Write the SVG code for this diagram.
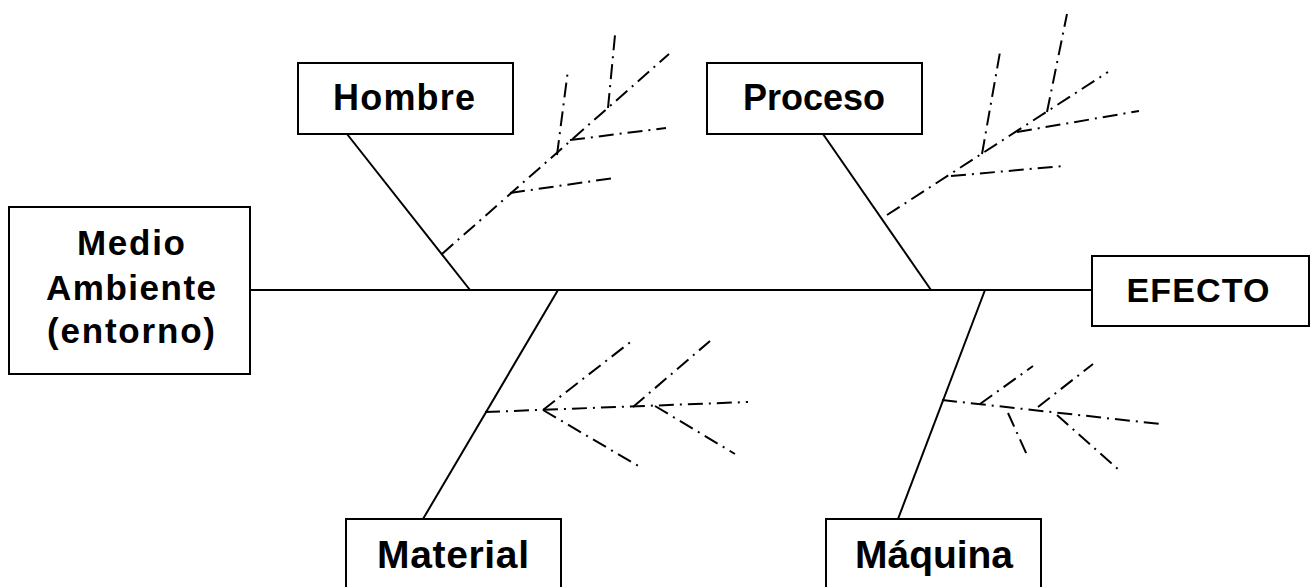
<svg xmlns="http://www.w3.org/2000/svg" width="1311" height="587" viewBox="0 0 1311 587">
  <style>
    .box { fill: #ffffff; stroke: #000000; stroke-width: 2; }
    .lbl { font-family: "Liberation Sans", Arial, sans-serif; font-weight: bold; fill: #000000; text-anchor: middle; }
    .bone { stroke: #000000; stroke-width: 2; fill: none; }
    .cause { stroke: #000000; stroke-width: 2; fill: none; stroke-dasharray: 15 6 2 6; }
  </style>
  <rect width="1311" height="587" fill="#ffffff"/>

  <!-- spine and main bones -->
  <g id="connectors">
    <line class="bone" x1="250" y1="290" x2="1092" y2="290"/>
    <line class="bone" x1="347" y1="134" x2="470" y2="290"/>
    <line class="bone" x1="823" y1="134" x2="931" y2="290"/>
    <line class="bone" x1="558" y1="290" x2="423" y2="519"/>
    <line class="bone" x1="985" y1="290" x2="898" y2="519"/>

    <!-- Hombre causes -->
    <g id="causes-hombre">
      <line class="cause" x1="442" y1="254" x2="669" y2="54"/>
      <line class="cause" x1="510" y1="193" x2="614" y2="178"/>
      <line class="cause" x1="570" y1="140" x2="666" y2="128"/>
      <line class="cause" x1="557" y1="155" x2="568" y2="70"/>
      <line class="cause" x1="608" y1="108" x2="615" y2="35"/>
    </g>

    <!-- Proceso causes -->
    <g id="causes-proceso">
      <line class="cause" x1="887" y1="215" x2="1108" y2="72"/>
      <line class="cause" x1="951" y1="176" x2="1064" y2="166"/>
      <line class="cause" x1="1017" y1="132" x2="1139" y2="111"/>
      <line class="cause" x1="982" y1="154" x2="1000" y2="52"/>
      <line class="cause" x1="1047" y1="112" x2="1067" y2="14"/>
    </g>

    <!-- Material causes -->
    <g id="causes-material">
      <line class="cause" x1="485" y1="412" x2="748" y2="402"/>
      <line class="cause" x1="543" y1="410" x2="633" y2="340"/>
      <line class="cause" x1="543" y1="410" x2="640" y2="467"/>
      <line class="cause" x1="633" y1="407" x2="710" y2="341"/>
      <line class="cause" x1="655" y1="406" x2="735" y2="454"/>
    </g>

    <!-- Maquina causes -->
    <g id="causes-maquina">
      <line class="cause" x1="942" y1="400" x2="1160" y2="424"/>
      <line class="cause" x1="980" y1="404" x2="1033" y2="366"/>
      <line class="cause" x1="1008" y1="413" x2="1027" y2="455"/>
      <line class="cause" x1="1038" y1="407" x2="1093" y2="364"/>
      <line class="cause" x1="1057" y1="415" x2="1119" y2="470"/>
    </g>
  </g>

  <g id="medio-ambiente">
    <rect class="box" x="9" y="207" width="241" height="167"/>
    <text class="lbl" x="131" y="255" font-size="35" textLength="108">Medio</text>
    <text class="lbl" x="131" y="300" font-size="35" textLength="170">Ambiente</text>
    <text class="lbl" x="131" y="343" font-size="35" textLength="168">(entorno)</text>
  </g>

  <g id="hombre">
    <rect class="box" x="298" y="63" width="215" height="71"/>
    <text class="lbl" x="404" y="110" font-size="36" textLength="142">Hombre</text>
  </g>

  <g id="proceso">
    <rect class="box" x="707" y="63" width="215" height="71"/>
    <text class="lbl" x="814" y="110" font-size="36" textLength="142">Proceso</text>
  </g>

  <g id="efecto">
    <rect class="box" x="1092" y="256" width="217" height="70"/>
    <text class="lbl" x="1198" y="302" font-size="34" textLength="143">EFECTO</text>
  </g>

  <g id="material">
    <rect class="box" x="346" y="519" width="215" height="90"/>
    <text class="lbl" x="453" y="568" font-size="39" textLength="152">Material</text>
  </g>

  <g id="maquina">
    <rect class="box" x="826" y="519" width="215" height="90"/>
    <text class="lbl" x="934" y="568" font-size="39" textLength="158">Máquina</text>
  </g>
</svg>
